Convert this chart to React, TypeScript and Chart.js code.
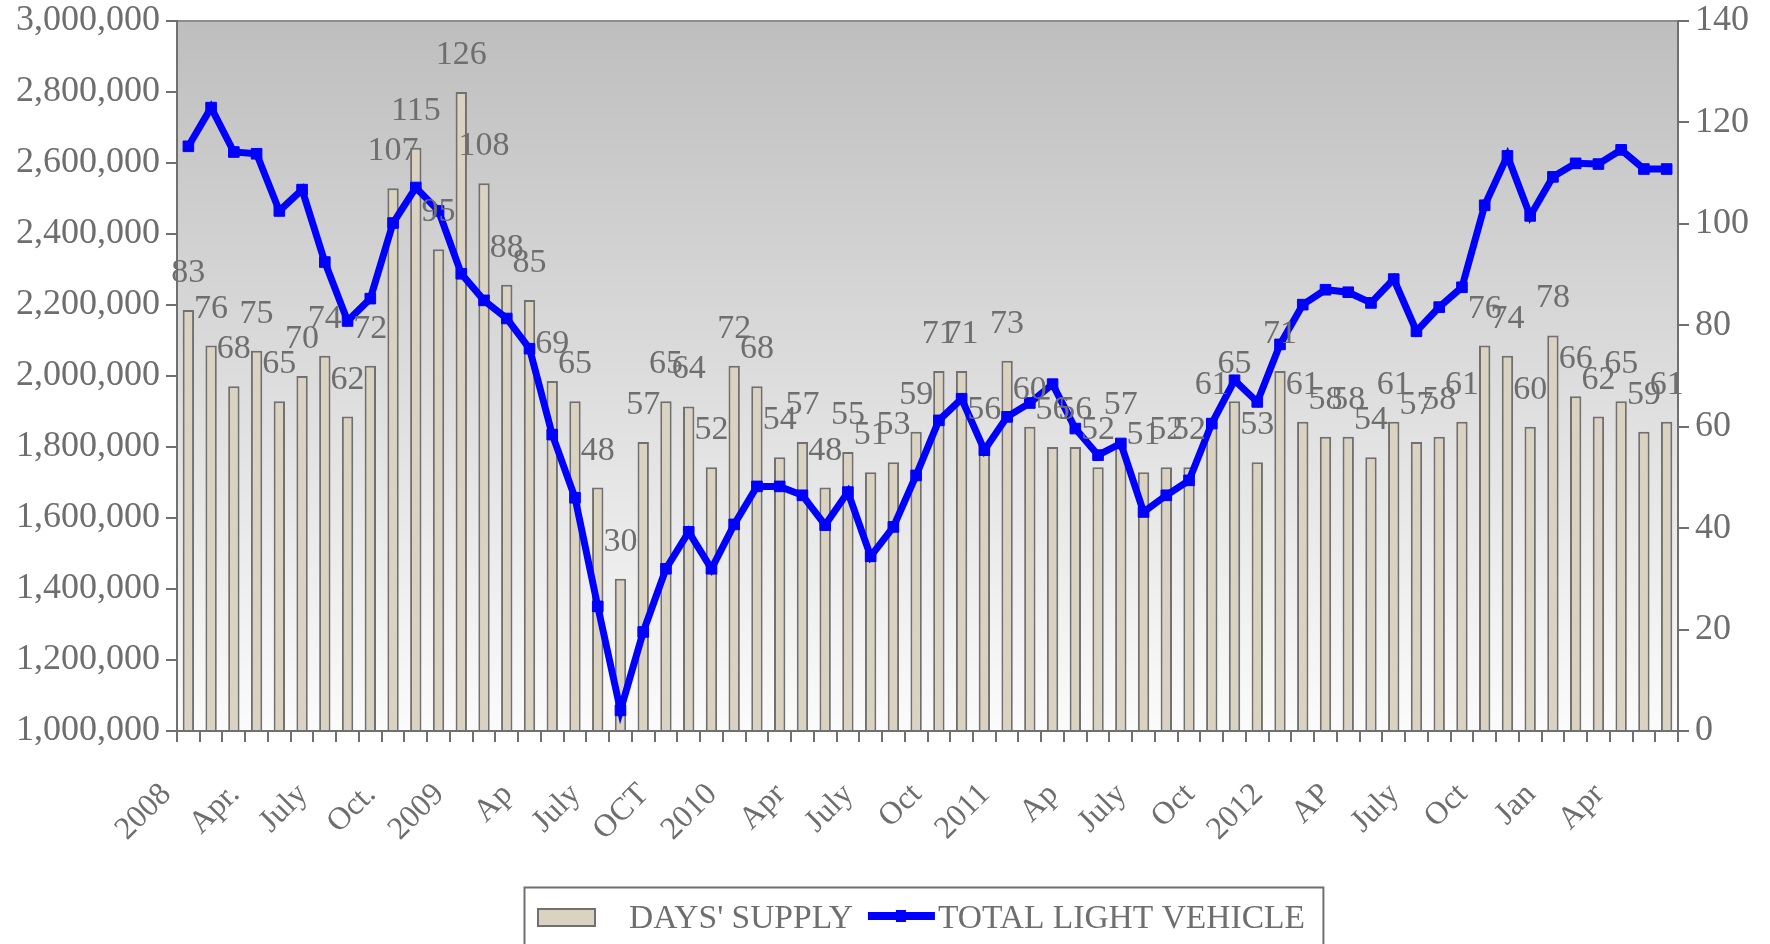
import React, { useEffect, useRef } from 'react';
import { Chart, registerables } from 'chart.js';

Chart.register(...registerables);

const categories: string[] = [
  '2008', '', '', 'Apr.', '', '', 'July', '', '', 'Oct.', '', '',
  '2009', '', '', 'Ap', '', '', 'July', '', '', 'OCT', '', '',
  '2010', '', '', 'Apr', '', '', 'July', '', '', 'Oct', '', '',
  '2011', '', '', 'Ap', '', '', 'July', '', '', 'Oct', '', '',
  '2012', '', '', 'AP', '', '', 'July', '', '', 'Oct', '', '',
  'Jan', '', '', 'Apr', '', '',
];

const daysSupply: number[] = [
  83, 76, 68, 75, 65, 70, 74, 62, 72, 107, 115, 95,
  126, 108, 88, 85, 69, 65, 48, 30, 57, 65, 64, 52,
  72, 68, 54, 57, 48, 55, 51, 53, 59, 71, 71, 56,
  73, 60, 56, 56, 52, 57, 51, 52, 52, 61, 65, 53,
  71, 61, 58, 58, 54, 61, 57, 58, 61, 76, 74, 60,
  78, 66, 62, 65, 59, 61,
];

const totalLightVehicle: number[] = [
  2647000, 2756000, 2631000, 2626000, 2465000, 2525000, 2321000, 2155000, 2218000, 2431000, 2531000, 2465000,
  2288000, 2213000, 2162000, 2077000, 1835000, 1657000, 1351000, 1058000, 1279000, 1457000, 1561000, 1457000,
  1582000, 1689000, 1689000, 1664000, 1580000, 1673000, 1492000, 1575000, 1720000, 1875000, 1936000, 1791000,
  1885000, 1924000, 1977000, 1852000, 1777000, 1810000, 1617000, 1664000, 1706000, 1866000, 1988000, 1927000,
  2089000, 2201000, 2243000, 2236000, 2206000, 2273000, 2126000, 2194000, 2250000, 2481000, 2620000, 2451000,
  2561000, 2599000, 2597000, 2637000, 2583000, 2583000,
];

const leftTicks = { min: 1000000, max: 3000000, step: 200000 };
const rightTicks = { min: 0, max: 140, step: 20 };

const FONT = '"Liberation Serif", "DejaVu Serif", serif';
const GRAY = '#6e6e6e';
const AXIS = '#707070';
const BAR_FILL = '#DBD3C1';
const BLUE = '#0000FF';

const backgroundPlugin = {
  id: 'plotBackground',
  beforeDraw(chart: any) {
    const { ctx, chartArea: a } = chart;
    ctx.save();
    ctx.fillStyle = '#ffffff';
    ctx.fillRect(0, 0, chart.width, chart.height);
    const g = ctx.createLinearGradient(0, a.top, 0, a.bottom);
    g.addColorStop(0, '#BEBEBE');
    g.addColorStop(1, '#FBFBFB');
    ctx.fillStyle = g;
    ctx.fillRect(a.left, a.top, a.right - a.left, a.bottom - a.top);
    ctx.strokeStyle = '#8c8c8c';
    ctx.lineWidth = 2;
    ctx.beginPath();
    ctx.moveTo(a.left, a.top);
    ctx.lineTo(a.right, a.top);
    ctx.stroke();
    ctx.restore();
  },
};

const barLabelPlugin = {
  id: 'barLabels',
  afterDatasetsDraw(chart: any) {
    const { ctx } = chart;
    const meta = chart.getDatasetMeta(0);
    const values = chart.data.datasets[0].data as number[];
    ctx.save();
    ctx.font = `34px ${FONT}`;
    ctx.fillStyle = GRAY;
    ctx.textAlign = 'center';
    ctx.textBaseline = 'alphabetic';
    meta.data.forEach((el: any, i: number) => {
      ctx.fillText(String(values[i]), el.x, el.y - 28);
    });
    ctx.restore();
  },
};

const legendPlugin = {
  id: 'boxLegend',
  afterDraw(chart: any) {
    const { ctx, chartArea: a } = chart;
    const ds = chart.data.datasets;
    ctx.save();
    ctx.font = `33.5px ${FONT}`;
    const t1 = ds[0].label as string;
    const t2 = ds[1].label as string;
    const w1 = ctx.measureText(t1).width;
    const w2 = ctx.measureText(t2).width;
    const total = 13 + 59 + 33 + w1 + 15 + 67 + 3 + w2 + 18;
    const left = Math.round((a.left + a.right) / 2 - total / 2) - 4;
    const top = 887;
    const baseline = 928;
    ctx.strokeStyle = AXIS;
    ctx.lineWidth = 2;
    ctx.strokeRect(left + 0.5, top + 0.5, total, 120);
    let x = left + 13;
    ctx.fillStyle = BAR_FILL;
    ctx.fillRect(x, 908, 59, 19);
    ctx.strokeStyle = AXIS;
    ctx.lineWidth = 2;
    ctx.strokeRect(x + 1, 909, 57, 17);
    x += 59 + 33;
    ctx.fillStyle = GRAY;
    ctx.textAlign = 'left';
    ctx.textBaseline = 'alphabetic';
    ctx.fillText(t1, x, baseline);
    x += w1 + 15;
    ctx.strokeStyle = BLUE;
    ctx.lineWidth = 8;
    ctx.beginPath();
    ctx.moveTo(x, 916);
    ctx.lineTo(x + 67, 916);
    ctx.stroke();
    ctx.fillStyle = BLUE;
    ctx.fillRect(x + 28, 910, 10, 12);
    x += 67 + 3;
    ctx.fillStyle = GRAY;
    ctx.fillText(t2, x, baseline);
    ctx.restore();
  },
};

export default function App() {
  const ref = useRef<HTMLCanvasElement | null>(null);

  useEffect(() => {
    if (!ref.current) return;
    Chart.defaults.font.family = FONT;
    const chart = new Chart(ref.current, {
      type: 'bar',
      data: {
        labels: categories,
        datasets: [
          {
            type: 'bar',
            label: "DAYS' SUPPLY",
            data: daysSupply,
            yAxisID: 'y1',
            backgroundColor: BAR_FILL,
            borderColor: AXIS,
            borderWidth: 2,
            barPercentage: 0.5,
            categoryPercentage: 1,
            order: 2,
          },
          {
            type: 'line',
            label: 'TOTAL LIGHT VEHICLE',
            data: totalLightVehicle,
            yAxisID: 'y',
            borderColor: BLUE,
            backgroundColor: BLUE,
            borderWidth: 7,
            pointStyle: 'rect',
            pointRadius: 7.5,
            pointBorderWidth: 1,
            pointBackgroundColor: BLUE,
            pointBorderColor: BLUE,
            tension: 0,
            fill: false,
            order: 1,
          },
        ],
      } as any,
      options: {
        responsive: false,
        animation: false,
        events: [],
        layout: { padding: { top: 21, left: 0, right: 0, bottom: 0 } },
        plugins: {
          legend: { display: false },
          tooltip: { enabled: false },
          title: { display: false },
        },
        scales: {
          x: {
            grid: {
              offset: true,
              drawOnChartArea: false,
              drawTicks: true,
              tickLength: 11,
              color: AXIS,
              lineWidth: 2,
            },
            border: { display: true, color: AXIS, width: 2 },
            ticks: {
              autoSkip: false,
              maxRotation: 45,
              minRotation: 45,
              padding: 34,
              labelOffset: -22,
              color: GRAY,
              font: { family: FONT, size: 32 },
            },
            afterFit: (s: any) => {
              s.height = 213;
            },
          },
          y: {
            position: 'left',
            min: leftTicks.min,
            max: leftTicks.max,
            ticks: {
              stepSize: leftTicks.step,
              padding: 6,
              color: GRAY,
              font: { family: FONT, size: 36 },
              callback: (v: any) => Number(v).toLocaleString('en-US'),
            },
            grid: {
              drawOnChartArea: false,
              drawTicks: true,
              tickLength: 11,
              color: AXIS,
              lineWidth: 2,
            },
            border: { display: true, color: AXIS, width: 2 },
            afterFit: (s: any) => {
              s.width = 177;
              s.paddingTop = 0;
              s.paddingBottom = 0;
            },
          },
          y1: {
            position: 'right',
            min: rightTicks.min,
            max: rightTicks.max,
            ticks: {
              stepSize: rightTicks.step,
              padding: 6,
              color: GRAY,
              font: { family: FONT, size: 36 },
            },
            grid: {
              drawOnChartArea: false,
              drawTicks: true,
              tickLength: 11,
              color: AXIS,
              lineWidth: 2,
            },
            border: { display: true, color: AXIS, width: 2 },
            afterFit: (s: any) => {
              s.width = 92;
              s.paddingTop = 0;
              s.paddingBottom = 0;
            },
          },
        },
      } as any,
      plugins: [backgroundPlugin, barLabelPlugin, legendPlugin],
    });
    return () => chart.destroy();
  }, []);

  return (
    <canvas
      ref={ref}
      width={1770}
      height={944}
      style={{ position: 'absolute', left: 0, top: 0, display: 'block', width: 1770, height: 944 }}
    />
  );
}
